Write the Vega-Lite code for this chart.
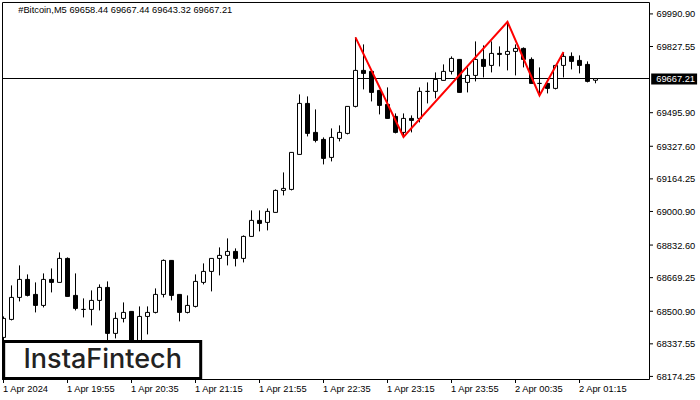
{"$schema":"https://vega.github.io/schema/vega-lite/v6.json","width":648,"height":378,"autosize":{"type":"none"},"padding":{"left":2,"top":2,"right":50,"bottom":20},"background":"white","config":{"view":{"stroke":null},"font":"Liberation Sans","axis":{"title":null,"grid":false,"domain":false,"ticks":false,"labelColor":"black","labelFont":"Liberation Sans","labelFontSize":9.3,"labelFlush":false,"labelOverlap":false,"labelBound":false,"labelSeparation":0}},"datasets":{"frame":[{"start":"2024-04-01T19:14:22.500Z","end":"2024-04-02T01:58:45Z","low":68158.8,"high":70048.1}],"candles":[
{"time":"2024-04-01T19:15:00Z","open":68369.7,"high":68474.9,"low":68329.6,"close":68464.9},
{"time":"2024-04-01T19:20:00Z","open":68459.9,"high":68630.3,"low":68454.9,"close":68570.2},
{"time":"2024-04-01T19:25:00Z","open":68570.2,"high":68730.6,"low":68550.1,"close":68660.4},
{"time":"2024-04-01T19:30:00Z","open":68660.4,"high":68685.5,"low":68575.2,"close":68580.2},
{"time":"2024-04-01T19:35:00Z","open":68585.2,"high":68645.4,"low":68495,"close":68530.1},
{"time":"2024-04-01T19:40:00Z","open":68530.1,"high":68690.5,"low":68520,"close":68660.4},
{"time":"2024-04-01T19:45:00Z","open":68660.4,"high":68715.5,"low":68595.2,"close":68645.4},
{"time":"2024-04-01T19:50:00Z","open":68645.4,"high":68795.7,"low":68645.4,"close":68765.6},
{"time":"2024-04-01T19:55:00Z","open":68765.6,"high":68770.6,"low":68575.2,"close":68575.2},
{"time":"2024-04-01T20:00:00Z","open":68580.2,"high":68690.5,"low":68505,"close":68515},
{"time":"2024-04-01T20:05:00Z","open":68510,"high":68565.2,"low":68469.9,"close":68510},
{"time":"2024-04-01T20:10:00Z","open":68510,"high":68605.3,"low":68429.9,"close":68555.1},
{"time":"2024-04-01T20:15:00Z","open":68555.1,"high":68635.3,"low":68505,"close":68620.3},
{"time":"2024-04-01T20:20:00Z","open":68620.3,"high":68650.4,"low":68354.7,"close":68389.8},
{"time":"2024-04-01T20:25:00Z","open":68389.8,"high":68495,"low":68364.7,"close":68464.9},
{"time":"2024-04-01T20:30:00Z","open":68464.9,"high":68545.1,"low":68444.9,"close":68495},
{"time":"2024-04-01T20:35:00Z","open":68500,"high":68500,"low":68304.6,"close":68329.6},
{"time":"2024-04-01T20:40:00Z","open":68329.6,"high":68525.1,"low":68304.6,"close":68474.9},
{"time":"2024-04-01T20:45:00Z","open":68474.9,"high":68525.1,"low":68384.8,"close":68495},
{"time":"2024-04-01T20:50:00Z","open":68495,"high":68615.3,"low":68490,"close":68585.2},
{"time":"2024-04-01T20:55:00Z","open":68585.2,"high":68760.6,"low":68570.2,"close":68755.6},
{"time":"2024-04-01T21:00:00Z","open":68755.6,"high":68755.6,"low":68555.1,"close":68580.2},
{"time":"2024-04-01T21:05:00Z","open":68585.2,"high":68585.2,"low":68449.9,"close":68495},
{"time":"2024-04-01T21:10:00Z","open":68495,"high":68580.2,"low":68490,"close":68530.1},
{"time":"2024-04-01T21:15:00Z","open":68525.1,"high":68685.5,"low":68520,"close":68650.4},
{"time":"2024-04-01T21:20:00Z","open":68645.4,"high":68740.6,"low":68635.3,"close":68700.5},
{"time":"2024-04-01T21:25:00Z","open":68700.5,"high":68765.6,"low":68600.3,"close":68765.6},
{"time":"2024-04-01T21:30:00Z","open":68765.6,"high":68820.8,"low":68680.5,"close":68780.7},
{"time":"2024-04-01T21:35:00Z","open":68780.7,"high":68865.9,"low":68730.6,"close":68800.7},
{"time":"2024-04-01T21:40:00Z","open":68800.7,"high":68815.8,"low":68725.5,"close":68765.6},
{"time":"2024-04-01T21:45:00Z","open":68765.6,"high":68880.9,"low":68745.6,"close":68875.9},
{"time":"2024-04-01T21:50:00Z","open":68875.9,"high":69006.2,"low":68875.9,"close":68956.1},
{"time":"2024-04-01T21:55:00Z","open":68956.1,"high":69006.2,"low":68901,"close":68941.1},
{"time":"2024-04-01T22:00:00Z","open":68946.1,"high":69016.2,"low":68906,"close":69001.2},
{"time":"2024-04-01T22:05:00Z","open":68996.2,"high":69111.4,"low":68996.2,"close":69106.4},
{"time":"2024-04-01T22:10:00Z","open":69106.4,"high":69196.6,"low":69081.3,"close":69116.4},
{"time":"2024-04-01T22:15:00Z","open":69111.4,"high":69296.9,"low":69106.4,"close":69296.9},
{"time":"2024-04-01T22:20:00Z","open":69286.8,"high":69587.5,"low":69286.8,"close":69542.4},
{"time":"2024-04-01T22:25:00Z","open":69542.4,"high":69577.5,"low":69377,"close":69392.1},
{"time":"2024-04-01T22:30:00Z","open":69397.1,"high":69512.3,"low":69347,"close":69357},
{"time":"2024-04-01T22:35:00Z","open":69362,"high":69372,"low":69236.7,"close":69266.8},
{"time":"2024-04-01T22:40:00Z","open":69271.8,"high":69417.1,"low":69251.7,"close":69372},
{"time":"2024-04-01T22:45:00Z","open":69367,"high":69432.2,"low":69352,"close":69397.1},
{"time":"2024-04-01T22:50:00Z","open":69392.1,"high":69527.4,"low":69387.1,"close":69527.4},
{"time":"2024-04-01T22:55:00Z","open":69527.4,"high":69873.2,"low":69522.4,"close":69707.8},
{"time":"2024-04-01T23:00:00Z","open":69707.8,"high":69838.1,"low":69612.6,"close":69692.8},
{"time":"2024-04-01T23:05:00Z","open":69702.8,"high":69702.8,"low":69552.4,"close":69597.5},
{"time":"2024-04-01T23:10:00Z","open":69607.6,"high":69607.6,"low":69487.3,"close":69532.4},
{"time":"2024-04-01T23:15:00Z","open":69537.4,"high":69622.6,"low":69467.2,"close":69467.2},
{"time":"2024-04-01T23:20:00Z","open":69477.3,"high":69492.3,"low":69392.1,"close":69397.1},
{"time":"2024-04-01T23:25:00Z","open":69397.1,"high":69492.3,"low":69372,"close":69467.2},
{"time":"2024-04-01T23:30:00Z","open":69467.2,"high":69482.3,"low":69397.1,"close":69457.2},
{"time":"2024-04-01T23:35:00Z","open":69467.2,"high":69622.6,"low":69447.2,"close":69602.6},
{"time":"2024-04-01T23:40:00Z","open":69602.6,"high":69647.7,"low":69542.4,"close":69602.6},
{"time":"2024-04-01T23:45:00Z","open":69602.6,"high":69697.8,"low":69567.5,"close":69662.7},
{"time":"2024-04-01T23:50:00Z","open":69657.7,"high":69737.9,"low":69657.7,"close":69702.8},
{"time":"2024-04-01T23:55:00Z","open":69702.8,"high":69778,"low":69687.7,"close":69767.9},
{"time":"2024-04-02T00:00:00Z","open":69762.9,"high":69762.9,"low":69597.5,"close":69597.5},
{"time":"2024-04-02T00:05:00Z","open":69647.7,"high":69722.8,"low":69597.5,"close":69682.7},
{"time":"2024-04-02T00:10:00Z","open":69682.7,"high":69853.1,"low":69652.7,"close":69762.9},
{"time":"2024-04-02T00:15:00Z","open":69762.9,"high":69833.1,"low":69672.7,"close":69727.8},
{"time":"2024-04-02T00:20:00Z","open":69732.8,"high":69853.1,"low":69697.8,"close":69793},
{"time":"2024-04-02T00:25:00Z","open":69793,"high":69828.1,"low":69727.8,"close":69788},
{"time":"2024-04-02T00:30:00Z","open":69788,"high":69948.3,"low":69707.8,"close":69803},
{"time":"2024-04-02T00:35:00Z","open":69803,"high":69838.1,"low":69682.7,"close":69818.1},
{"time":"2024-04-02T00:40:00Z","open":69818.1,"high":69823.1,"low":69722.8,"close":69762.9},
{"time":"2024-04-02T00:45:00Z","open":69762.9,"high":69773,"low":69642.6,"close":69642.6},
{"time":"2024-04-02T00:50:00Z","open":69642.6,"high":69722.8,"low":69582.5,"close":69642.6},
{"time":"2024-04-02T00:55:00Z","open":69642.6,"high":69642.6,"low":69592.5,"close":69617.6},
{"time":"2024-04-02T01:00:00Z","open":69617.6,"high":69732.8,"low":69612.6,"close":69732.8},
{"time":"2024-04-02T01:05:00Z","open":69732.8,"high":69798,"low":69672.7,"close":69778},
{"time":"2024-04-02T01:10:00Z","open":69778,"high":69798,"low":69712.8,"close":69752.9},
{"time":"2024-04-02T01:15:00Z","open":69757.9,"high":69783,"low":69692.8,"close":69732.8},
{"time":"2024-04-02T01:20:00Z","open":69737.9,"high":69752.9,"low":69647.7,"close":69652.7},
{"time":"2024-04-02T01:25:00Z","open":69658.44,"high":69667.44,"low":69643.32,"close":69667.21}
],"pattern":[
{"time":"2024-04-01T22:55:00Z","price":69873.2},
{"time":"2024-04-01T23:25:00Z","price":69374.5},
{"time":"2024-04-02T00:30:00Z","price":69950.8},
{"time":"2024-04-02T00:50:00Z","price":69582.5},
{"time":"2024-04-02T01:05:00Z","price":69800.5}
],
"priceTicks":[
{"start":"2024-04-02T01:59:03.750Z","end":"2024-04-02T02:00:56.250Z","price":69990.9},
{"start":"2024-04-02T01:59:03.750Z","end":"2024-04-02T02:00:56.250Z","price":69827.55},
{"start":"2024-04-02T01:59:03.750Z","end":"2024-04-02T02:00:56.250Z","price":69495.9},
{"start":"2024-04-02T01:59:03.750Z","end":"2024-04-02T02:00:56.250Z","price":69327.6},
{"start":"2024-04-02T01:59:03.750Z","end":"2024-04-02T02:00:56.250Z","price":69164.25},
{"start":"2024-04-02T01:59:03.750Z","end":"2024-04-02T02:00:56.250Z","price":69000.9},
{"start":"2024-04-02T01:59:03.750Z","end":"2024-04-02T02:00:56.250Z","price":68832.6},
{"start":"2024-04-02T01:59:03.750Z","end":"2024-04-02T02:00:56.250Z","price":68669.25},
{"start":"2024-04-02T01:59:03.750Z","end":"2024-04-02T02:00:56.250Z","price":68500.9},
{"start":"2024-04-02T01:59:03.750Z","end":"2024-04-02T02:00:56.250Z","price":68337.55},
{"start":"2024-04-02T01:59:03.750Z","end":"2024-04-02T02:00:56.250Z","price":68174.25}
],
"timeTicks":[
{"time":"2024-04-01T19:15:00Z","low":68141.3,"high":68156.3},
{"time":"2024-04-01T19:55:00Z","low":68141.3,"high":68156.3},
{"time":"2024-04-01T20:35:00Z","low":68141.3,"high":68156.3},
{"time":"2024-04-01T21:15:00Z","low":68141.3,"high":68156.3},
{"time":"2024-04-01T21:55:00Z","low":68141.3,"high":68156.3},
{"time":"2024-04-01T22:35:00Z","low":68141.3,"high":68156.3},
{"time":"2024-04-01T23:15:00Z","low":68141.3,"high":68156.3},
{"time":"2024-04-01T23:55:00Z","low":68141.3,"high":68156.3},
{"time":"2024-04-02T00:35:00Z","low":68141.3,"high":68156.3},
{"time":"2024-04-02T01:15:00Z","low":68141.3,"high":68156.3}
]},"resolve":{"axis":{"y":"shared","x":"shared"}},"layer":[
{"data":{"name":"candles"},"mark":{"type":"rule","stroke":"black","strokeWidth":1,"clip":true},"encoding":{"x":{"field":"time","type":"temporal","scale":{"type":"utc","padding":0,"domain":["2024-04-01T19:14:03.750Z","2024-04-02T01:59:03.750Z"]},"axis":{"orient":"bottom","values":["2024-04-01T19:15:00Z","2024-04-01T19:55:00Z","2024-04-01T20:35:00Z","2024-04-01T21:15:00Z","2024-04-01T21:55:00Z","2024-04-01T22:35:00Z","2024-04-01T23:15:00Z","2024-04-01T23:55:00Z","2024-04-02T00:35:00Z","2024-04-02T01:15:00Z"],"labelExpr":"datum.index==0?'1 Apr 2024':utcFormat(datum.value,'%-d %b %H:%M')","labelAlign":"left","labelPadding":4,"labelOffset":-1}},"y":{"field":"low","type":"quantitative","scale":{"domain":[68156.3,70050.6],"nice":false,"zero":false,"padding":0},"axis":{"orient":"right","tickCount":11,"values":[69990.9,69827.55,69495.9,69327.6,69164.25,69000.9,68832.6,68669.25,68500.9,68337.55,68174.25],"format":".2f","labelPadding":6}},"y2":{"field":"high"}}},
{"data":{"values":[{"price":69667.21}]},"mark":{"type":"rule","stroke":"black","strokeWidth":1},"encoding":{"y":{"field":"price","type":"quantitative","axis":{"orient":"right"}}}},
{"data":{"name":"candles"},"mark":{"type":"bar","size":4,"stroke":"black","strokeWidth":1,"clip":true,"orient":"vertical"},"encoding":{"x":{"field":"time","type":"temporal","axis":{"orient":"bottom"}},"y":{"field":"open","type":"quantitative","axis":{"orient":"right"}},"y2":{"field":"close"},"fill":{"condition":{"test":"datum.close>=datum.open","value":"white"},"value":"black"}}},
{"data":{"name":"pattern"},"mark":{"type":"line","stroke":"#ff0000","strokeWidth":2,"clip":true},"encoding":{"x":{"field":"time","type":"temporal","axis":{"orient":"bottom"}},"y":{"field":"price","type":"quantitative","axis":{"orient":"right"}}}},
{"data":{"name":"frame"},"mark":{"type":"rect","fillOpacity":0,"stroke":"black","strokeWidth":1},"encoding":{"x":{"field":"start","type":"temporal","axis":{"orient":"bottom"}},"x2":{"field":"end"},"y":{"field":"low","type":"quantitative","axis":{"orient":"right"}},"y2":{"field":"high"}}},
{"data":{"name":"priceTicks"},"mark":{"type":"rule","stroke":"black","strokeWidth":1},"encoding":{"x":{"field":"start","type":"temporal","axis":{"orient":"bottom"}},"x2":{"field":"end"},"y":{"field":"price","type":"quantitative","axis":{"orient":"right"}}}},
{"data":{"name":"timeTicks"},"mark":{"type":"rule","stroke":"black","strokeWidth":1},"encoding":{"x":{"field":"time","type":"temporal","axis":{"orient":"bottom"}},"y":{"field":"low","type":"quantitative","axis":{"orient":"right"}},"y2":{"field":"high"}}},
{"data":{"values":[{"start":"2024-04-01T19:15:07Z","end":"2024-04-01T21:18:15Z","low":68164.3,"high":68349.7}]},"mark":{"type":"rect","fill":"white","stroke":"black","strokeWidth":3},"encoding":{"x":{"field":"start","type":"temporal","axis":{"orient":"bottom"}},"x2":{"field":"end"},"y":{"field":"low","type":"quantitative","axis":{"orient":"right"}},"y2":{"field":"high"}}},
{"data":{"values":[{"time":"2024-04-01T20:17:00Z","price":68254.5,"label":"InstaFintech"}]},"mark":{"type":"text","font":"Inter","fontSize":27,"fontWeight":500,"letterSpacing":0.3,"fill":"#222222","align":"center","baseline":"middle"},"encoding":{"x":{"field":"time","type":"temporal","axis":{"orient":"bottom"}},"y":{"field":"price","type":"quantitative","axis":{"orient":"right"}},"text":{"field":"label"}}},
{"data":{"values":[{"time":"2024-04-01T19:24:12Z","price":70008.5,"label":"#Bitcoin,M5  69658.44 69667.44 69643.32 69667.21"}]},"mark":{"type":"text","font":"Liberation Sans","fontSize":9.3,"fill":"black","align":"left","baseline":"middle"},"encoding":{"x":{"field":"time","type":"temporal","axis":{"orient":"bottom"}},"y":{"field":"price","type":"quantitative","axis":{"orient":"right"}},"text":{"field":"label"}}},
{"data":{"values":[{"start":"2024-04-02T01:59:48Z","end":"2024-04-02T02:28:30Z","low":69637.6,"high":69692.8}]},"mark":{"type":"rect","fill":"black"},"encoding":{"x":{"field":"start","type":"temporal","axis":{"orient":"bottom"}},"x2":{"field":"end"},"y":{"field":"low","type":"quantitative","axis":{"orient":"right"}},"y2":{"field":"high"}}},
{"data":{"values":[{"time":"2024-04-02T02:02:57Z","price":69665,"label":"69667.21"}]},"mark":{"type":"text","font":"Liberation Sans","fontSize":9.3,"fill":"white","align":"left","baseline":"middle"},"encoding":{"x":{"field":"time","type":"temporal","axis":{"orient":"bottom"}},"y":{"field":"price","type":"quantitative","axis":{"orient":"right"}},"text":{"field":"label"}}}
]}
